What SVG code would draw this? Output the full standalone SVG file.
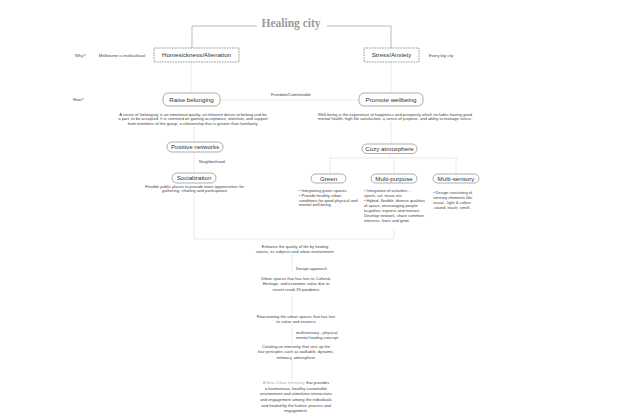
<svg xmlns="http://www.w3.org/2000/svg" width="640" height="419" viewBox="0 0 640 419">
<style>
.title{font-family:"Liberation Serif",serif;font-weight:bold;font-size:11.5px;fill:#9a9a9a}
.lbl{font-family:"Liberation Sans",Arial,sans-serif;font-size:6.2px;fill:#333}
.sm{font-family:"Liberation Sans",Arial,sans-serif;font-size:4.1px;fill:#444}
.c{text-anchor:middle}
.dash{fill:#fff;stroke:#555;stroke-width:0.6;stroke-dasharray:1.6,1}
.pill{fill:#fff;stroke:#777;stroke-width:0.6}
.solid{fill:none;stroke:#aaa;stroke-width:0.8}
.dot{fill:none;stroke:#bbb;stroke-width:0.6;stroke-dasharray:0.8,0.8}
.tan{fill:#b9aa9b}
</style>
<rect width="640" height="419" fill="#fff"/>
<g id="connectors">
<path class="solid" d="M192,48 V26 H257 M327,26 H391 V48"/>
<path class="dot" d="M191,62 V93 M391,62 V93 M220,100 H359 M194,127 V142 M194,152 V173 M194,194 V239 H394 V228 M391,122 V144 M390,153.5 V158 M330,158 H457 M330,158 V174 M394,158 V174 M456,158 V174 M292,254 V271 M292,296 V313 M292,325 V343 M292,360 V380"/>
</g>
<g id="title"><text class="title c" x="291" y="27">Healing city</text></g>
<g id="side-labels">
<text class="sm" x="75" y="56.5">Why?</text>
<text class="sm c" x="122" y="56.5">Melbourne is multicultural</text>
<text class="sm" x="429" y="56.5">Every big city</text>
<text class="sm" x="73" y="101">How?</text>
<text class="sm c" x="291" y="96">Freedom/Comfortable</text>
<text class="sm" x="199" y="162.5">Neighborhood</text>
</g>
<g id="homesickness">
<rect class="dash" x="154" y="48" width="85" height="14"/>
<text class="lbl c" x="196.5" y="57.3">Homesickness/Alienation</text>
</g>
<g id="stress">
<rect class="dash" x="364" y="48" width="55" height="14"/>
<text class="lbl c" x="391.5" y="57.3">Stress/Anxiety</text>
</g>
<g id="raise-belonging">
<rect class="pill" x="163" y="93" width="57" height="13" rx="5"/>
<text class="lbl c" x="191.5" y="101.7">Raise belonging</text>
<text class="sm c" x="193" y="115.5">A sense of 'belonging' is an emotional quality, an inherent desire to belong and be</text>
<text class="sm c" x="193" y="120.2">a part, to be accepted. It is centered on gaining acceptance, attention, and support</text>
<text class="sm c" x="193" y="125">from members of the group, a relationship that is greater than familiarity.</text>
</g>
<g id="promote-wellbeing">
<rect class="pill" x="359" y="93" width="64" height="13" rx="5"/>
<text class="lbl c" x="391" y="101.7">Promote wellbeing</text>
<text class="sm c" x="395" y="115.5">Well-being is the experience of happiness and prosperity which includes having good</text>
<text class="sm c" x="395" y="120.2">mental health, high life satisfaction, a sense of purpose, and ability to manage stress.</text>
</g>
<g id="positive-networks">
<rect class="pill" x="167" y="142" width="56" height="10" rx="5"/>
<text class="lbl c" x="195" y="149.2">Positive networks</text>
</g>
<g id="socialization">
<rect class="pill" x="172" y="173" width="44" height="10" rx="5"/>
<text class="lbl c" x="194" y="180.2">Socialization</text>
<text class="sm c" x="194.5" y="187.5">Flexible public places to provide more opportunities for</text>
<text class="sm c" x="194.5" y="192.2">gathering, chatting and participation</text>
</g>
<g id="cozy-atmosphere">
<rect class="pill" x="362" y="144" width="55" height="9.5" rx="4.7"/>
<text class="lbl c" x="389.5" y="151">Cozy atmosphere</text>
</g>
<g id="green">
<rect class="pill" x="311" y="174" width="35" height="9" rx="4.5"/>
<text class="lbl c" x="328.5" y="180.8">Green</text>
<text class="sm" x="299" y="192">• Integrating  green spaces.</text>
<text class="sm" x="299" y="196.8">• Provide healthy urban</text>
<text class="sm" x="299" y="201.6">conditions for good physical and</text>
<text class="sm" x="299" y="206.4">mental well-being.</text>
</g>
<g id="multi-purpose">
<rect class="pill" x="371" y="174" width="46" height="9" rx="4.5"/>
<text class="lbl c" x="394" y="180.8">Multi-purpose</text>
<text class="sm" x="364" y="192.3">• Integration of activities -</text>
<text class="sm" x="364" y="197.3">sports, art, music,etc.</text>
<text class="sm" x="364" y="202.3">• Hybrid, flexible, diverse qualities</text>
<text class="sm" x="364" y="207.3">of space, encouraging people</text>
<text class="sm" x="364" y="212.3">to gather, express and interact.</text>
<text class="sm" x="364" y="217.3">Develop network, share common</text>
<text class="sm" x="364" y="222.3">interests,  learn and grow.</text>
</g>
<g id="multi-sensory">
<rect class="pill" x="433" y="174" width="46" height="9" rx="4.5"/>
<text class="lbl c" x="456" y="180.8">Multi-sensory</text>
<text class="sm" x="433" y="193.5">• Design consisting of</text>
<text class="sm" x="433" y="198.5">sensory elements like</text>
<text class="sm" x="433" y="203.5">visual - light &amp; colour</text>
<text class="sm" x="433" y="208.5">,sound, touch, smell.</text>
</g>
<g id="enhance">
<text class="sm c" x="295" y="247.5">Enhance the quality of life by healing</text>
<text class="sm c" x="295" y="252.7">nature, its subjects and urban environment</text>
</g>
<g id="design-approach"><text class="sm" x="296" y="269.5">Design approach</text></g>
<g id="urban-spaces">
<text class="sm c" x="296" y="279.7">Urban spaces that has lost its Cultural,</text>
<text class="sm c" x="296" y="285.1">Heritage, and economic value due to</text>
<text class="sm c" x="296" y="290.5">recent covid-19 pandemic</text>
</g>
<g id="reactivating">
<text class="sm c" x="296" y="317.5">Reactivating the urban spaces that has lost</text>
<text class="sm c" x="296" y="323">its value and essence</text>
</g>
<g id="multisensory-label">
<text class="sm" x="296" y="333.5">multisensory - physical</text>
<text class="sm" x="296" y="338.8">mental healing concept</text>
</g>
<g id="creating">
<text class="sm c" x="296" y="347.5">Creating an interiority that sets up the</text>
<text class="sm c" x="296" y="353">four principles such as walkable, dynamic,</text>
<text class="sm c" x="296" y="358.5">intimacy, atmosphere</text>
</g>
<g id="new-urban-interiority">
<text class="sm c" x="296" y="384.2"><tspan class="tan">A New Urban Interiority</tspan> that provides</text>
<text class="sm c" x="296" y="389.7">a harmonious, healthy sustainable</text>
<text class="sm c" x="296" y="395.3">environment and stimulates interactions</text>
<text class="sm c" x="296" y="400.9">and engagement among the individuals</text>
<text class="sm c" x="296" y="406.5">and healed by the holistic  process and</text>
<text class="sm c" x="296" y="412.1">engagement.</text>
</g>
</svg>
